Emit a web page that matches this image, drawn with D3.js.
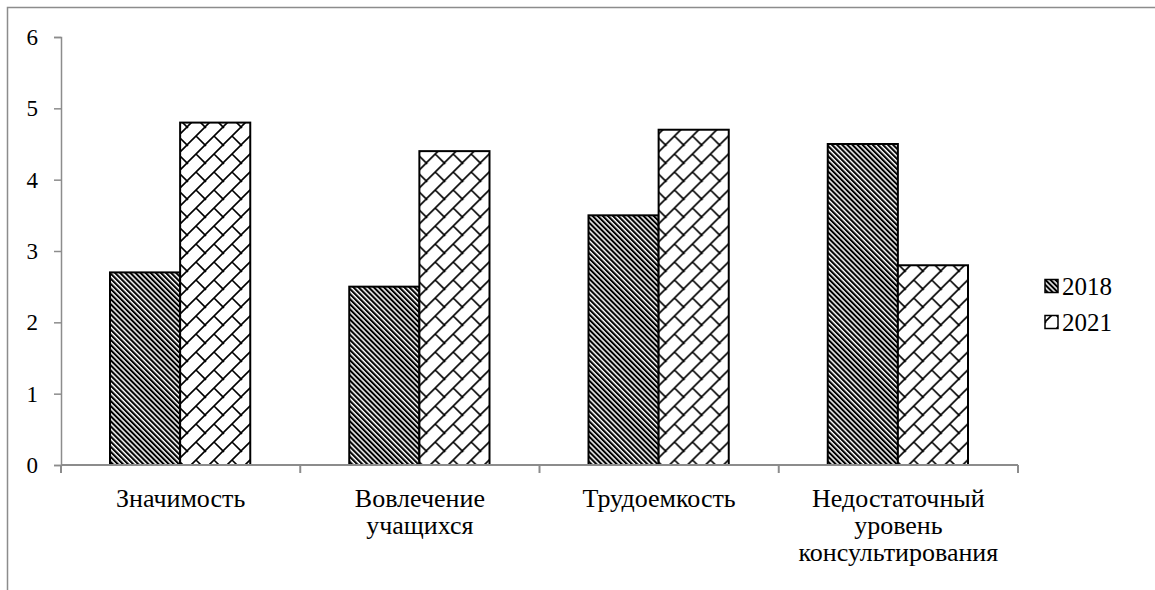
<!DOCTYPE html>
<html>
<head>
<meta charset="utf-8">
<script src="https://d3js.org/d3.v7.min.js"></script>
<style>
  body { margin: 0; background: #fff; }
</style>
</head>
<body>
<div id="container"></div>
<script>
// chart data
const categories = [["Значимость"], ["Вовлечение", "учащихся"], ["Трудоемкость"], ["Недостаточный", "уровень", "консультирования"]];
const seriesNames = ["2018", "2021"];
const values2018 = [2.7, 2.5, 3.5, 4.5];
const values2021 = [4.8, 4.4, 4.7, 2.8];
const yTicks = [0, 1, 2, 3, 4, 5, 6];

const FONT = "'Liberation Serif', 'DejaVu Serif', serif";
const W = 1155, H = 590;
const margin = {top: 37, left: 61, right: 137, bottom: 125};
const width = W - margin.left - margin.right;   // 957
const height = H - margin.top - margin.bottom;  // 428

const svg = d3.select("#container").append("svg")
  .attr("width", W).attr("height", H)
  .style("font-family", FONT);

// fill patterns
const defs = svg.append("defs");
const stripes = defs.append("pattern")
  .attr("id", "p2018")
  .attr("patternUnits", "userSpaceOnUse")
  .attr("width", 3.6).attr("height", 10)
  .attr("patternTransform", "rotate(-45)");
stripes.append("rect").attr("width", 3.6).attr("height", 10).attr("fill", "#fff");
stripes.append("rect").attr("width", 2.1).attr("height", 10).attr("fill", "#000");

const bs = 18; // brick tile
const brick = defs.append("pattern")
  .attr("id", "p2021")
  .attr("patternUnits", "userSpaceOnUse")
  .attr("width", bs).attr("height", bs);
brick.append("rect").attr("width", bs).attr("height", bs).attr("fill", "#fff");
brick.append("path")
  .attr("d", "M-2," + (bs + 2) + " L" + (bs + 2) + ",-2 M" + bs / 2 + "," + bs / 2 + " L" + (bs + 1) + "," + (bs + 1) + " M" + (-bs / 2) + "," + (-bs / 2) + " L1,1")
  .attr("stroke", "#000").attr("stroke-width", 1.6).attr("fill", "none");

const fills = {"2018": "url(#p2018)", "2021": "url(#p2021)"};

// outer frame
svg.append("rect")
  .attr("x", 7.5).attr("y", 7.5)
  .attr("width", 1300).attr("height", 800)
  .attr("fill", "none").attr("stroke", "#8c8c8c").attr("stroke-width", 1.5);

const g = svg.append("g")
  .attr("transform", "translate(" + margin.left + "," + margin.top + ")");

// scales
const x0 = d3.scaleBand().domain(d3.range(categories.length)).range([0, width]);
const x1 = d3.scaleBand().domain(seriesNames).range([49, x0.bandwidth() - 50]);
const y = d3.scaleLinear().domain([0, 6]).range([height, 0]);

// y axis
const yAxis = g.append("g")
  .call(d3.axisLeft(y).tickValues(yTicks).tickSize(7).tickPadding(16).tickFormat(d3.format("d")));
yAxis.attr("font-family", null).attr("font-size", null);
yAxis.select(".domain").attr("stroke", "#8c8c8c").attr("stroke-width", 1.5);
yAxis.selectAll(".tick line").attr("stroke", "#8c8c8c").attr("stroke-width", 1.5);
yAxis.selectAll(".tick text").style("font-size", "23px").style("font-family", FONT).attr("fill", "#000");

// bars
const rows = categories.map((c, i) => ({i: i, vals: [values2018[i], values2021[i]]}));
const groups = g.selectAll(".grp").data(rows).join("g")
  .attr("transform", d => "translate(" + x0(d.i) + ",0)");
groups.selectAll("rect")
  .data(d => seriesNames.map((s, k) => ({s: s, v: d.vals[k]})))
  .join("rect")
  .attr("x", d => x1(d.s))
  .attr("y", d => y(d.v))
  .attr("width", x1.bandwidth())
  .attr("height", d => height - y(d.v))
  .attr("fill", d => fills[d.s])
  .attr("stroke", "#000").attr("stroke-width", 2);

// x axis
const xAxis = g.append("g").attr("transform", "translate(0," + height + ")");
xAxis.append("line")
  .attr("x1", 0).attr("x2", width)
  .attr("stroke", "#8c8c8c").attr("stroke-width", 2);
xAxis.selectAll(".xt").data(d3.range(categories.length + 1)).join("line")
  .attr("x1", d => d < categories.length ? x0(d) : width)
  .attr("x2", d => d < categories.length ? x0(d) : width)
  .attr("y1", 0).attr("y2", 8)
  .attr("stroke", "#8c8c8c").attr("stroke-width", 2);

const labels = xAxis.selectAll(".lbl").data(categories).join("text")
  .attr("text-anchor", "middle")
  .style("font-size", "26px")
  .style("font-family", FONT)
  .attr("transform", (d, i) => "translate(" + (x0(i) + x0.bandwidth() / 2) + ",42)");
labels.selectAll("tspan").data(d => d).join("tspan")
  .attr("x", 0)
  .attr("dy", (d, k) => k === 0 ? 0 : 27)
  .text(d => d);

// legend
const legend = svg.append("g").attr("transform", "translate(1045,0)");
const items = legend.selectAll(".li").data(seriesNames).join("g")
  .attr("transform", (d, i) => "translate(0," + (286 + i * 36) + ")");
items.append("rect")
  .attr("x", 0).attr("y", -6.5).attr("width", 13).attr("height", 13)
  .attr("fill", d => fills[d]).attr("stroke", "#000").attr("stroke-width", 1.5);
items.append("text")
  .attr("x", 17).attr("y", 9)
  .style("font-size", "25px")
  .style("font-family", FONT)
  .text(d => d);
</script>
</body>
</html>
